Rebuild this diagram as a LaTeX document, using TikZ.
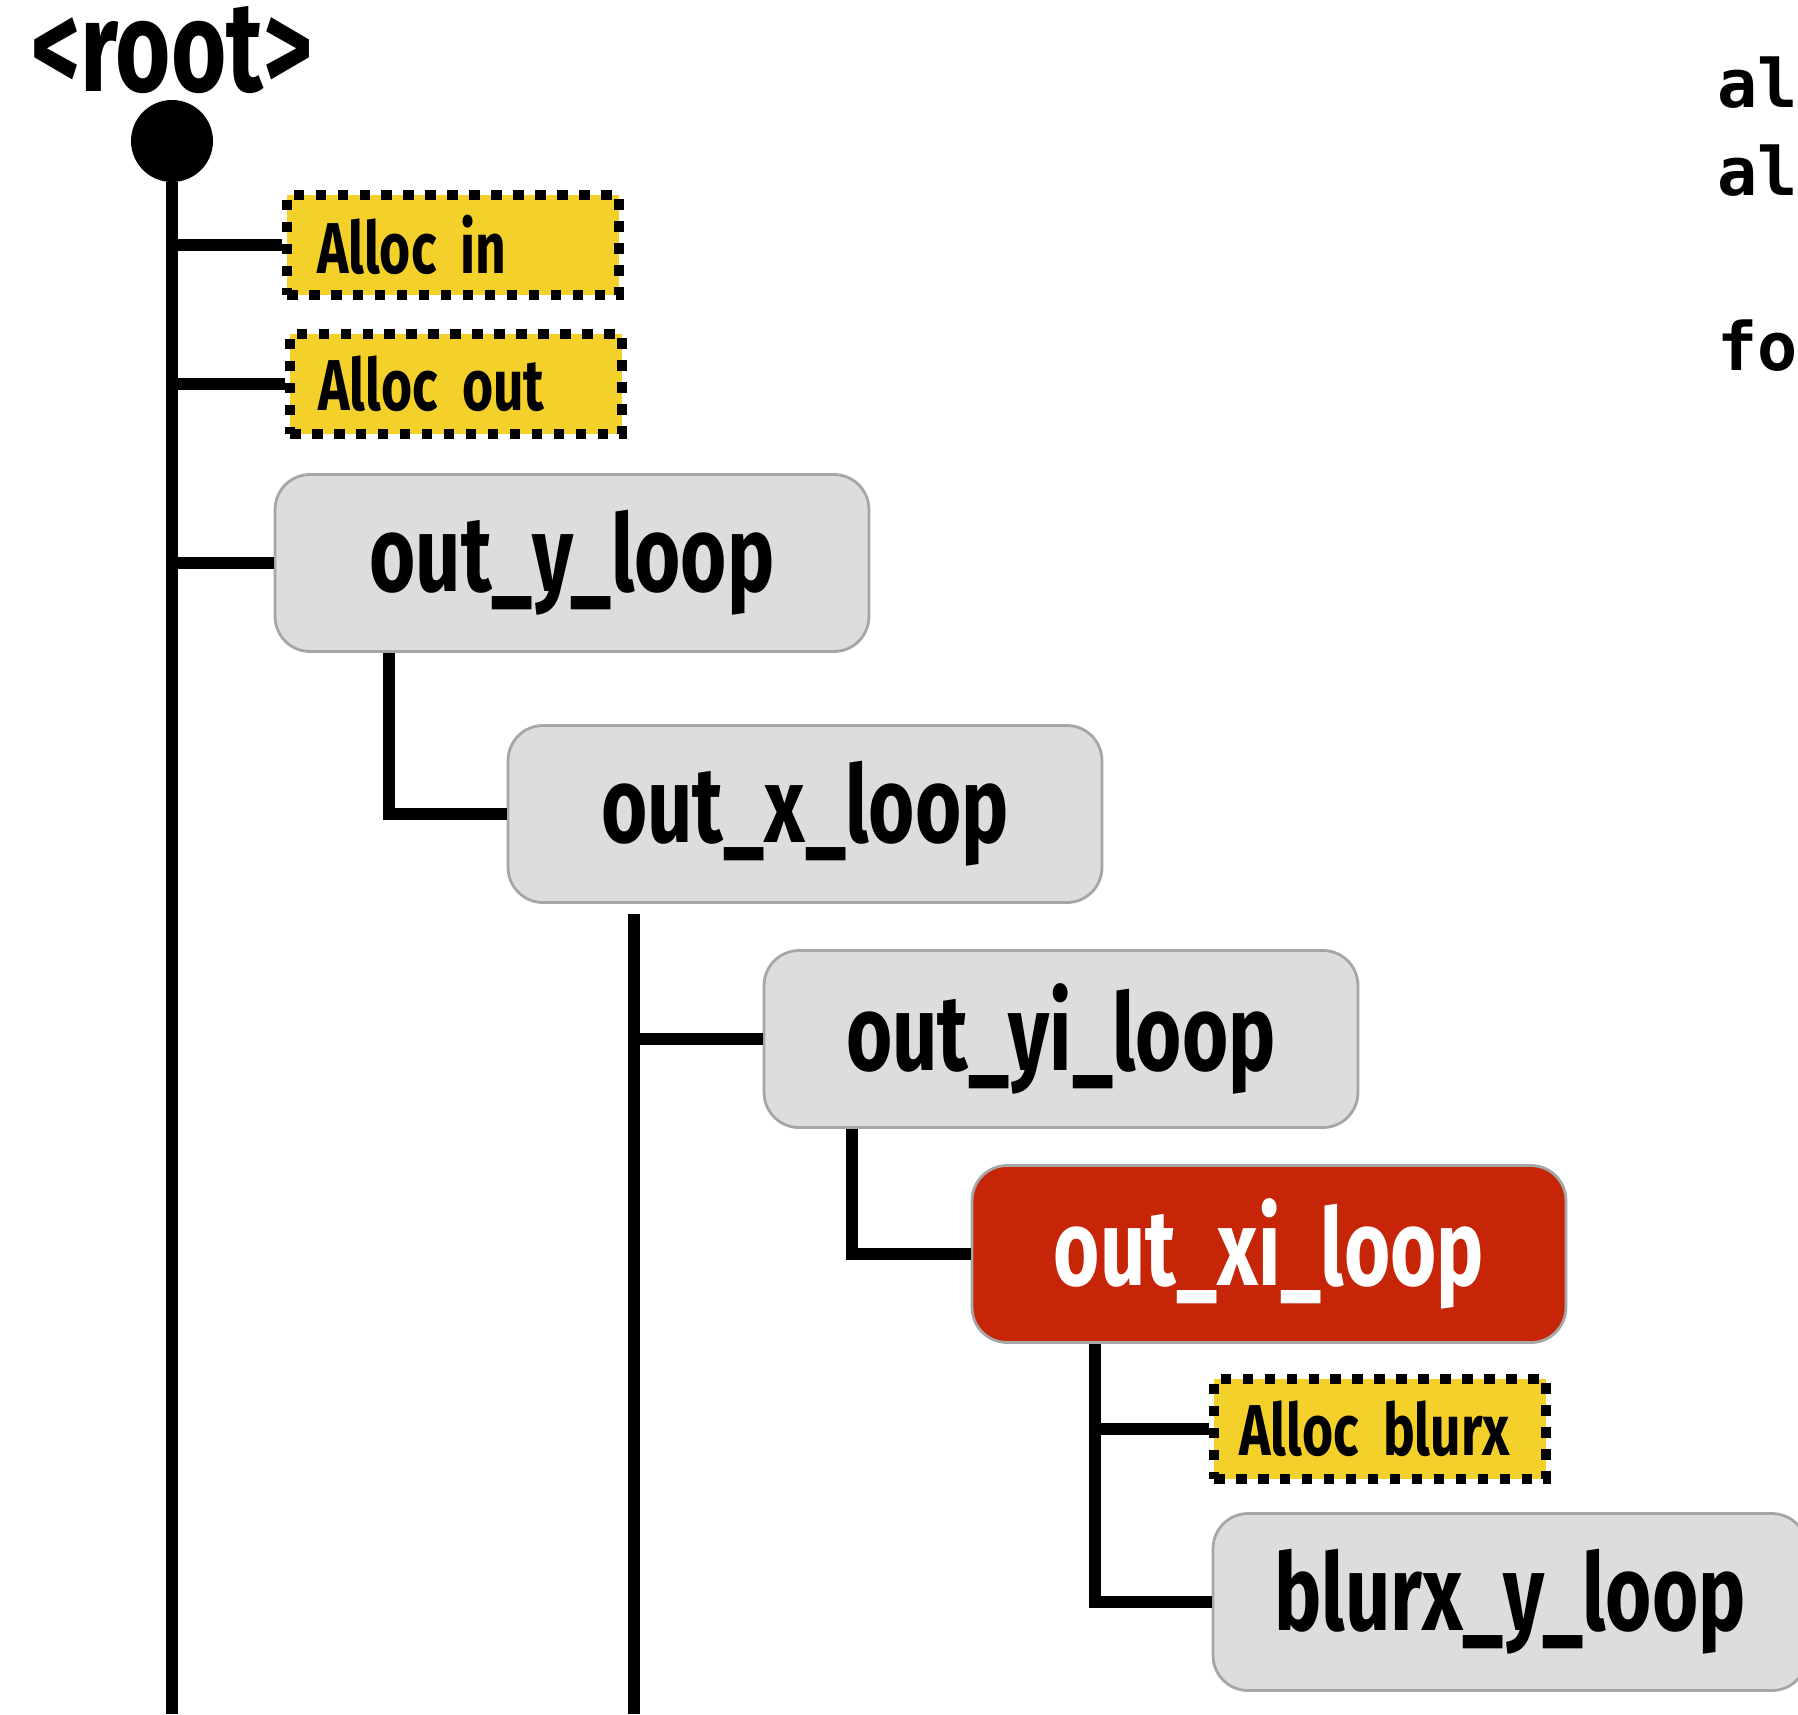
\documentclass[tikz,border=0pt]{standalone}
\usepackage{fontspec}
\usepackage{tikz}
\setmainfont{Fira Sans}[FakeStretch=0.74]
\newfontfamily\codefont{DejaVu Sans Mono}

\definecolor{allocyellow}{HTML}{F4D12A}
\definecolor{loopgray}{HTML}{DCDDDF}
\definecolor{loopedge}{HTML}{A5A6A6}
\definecolor{looped}{HTML}{C62508}

\tikzset{
  tree/.style={black, line width=0.24cm, line join=miter},
  loopbox/.style={draw=loopedge, line width=1.6pt, fill=loopgray, rounded corners=0.7cm,
    minimum width=11.88cm, minimum height=3.54cm, inner sep=0pt,
    font=\fontsize{61}{61}\selectfont\bfseries},
  hotloop/.style={loopbox, fill=looped, text=white},
  allocbox/.style={draw=black, fill=allocyellow, line width=5.5pt, dash pattern=on 6pt off 6.5pt,
    minimum height=2cm, text width=5.74cm, inner xsep=0.45cm, inner ysep=0pt, align=left,
    font=\fontsize{41}{41}\selectfont\bfseries},
  codeline/.style={anchor=base west, inner sep=0pt, font=\codefont\fontsize{38}{38}\selectfont\bfseries}
}

\begin{document}
\begin{tikzpicture}[x=0.02cm, y=-0.02cm]
\useasboundingbox (0,0) rectangle (1798,1714);

\node[font=\fontsize{73}{73}\selectfont\bfseries] (roottext) at (172,50) {<root>};
\node[circle, fill=black, minimum size=1.64cm, inner sep=0pt] (rootdot) at (172,141) {};

\node[allocbox] (allocin) at (453,245) {\hspace{0.15cm}Alloc in};
\node[allocbox] (allocout) at (456,384) {\hspace{0.12cm}Alloc out};
\node[loopbox] (outy) at (572,563) {out\_y\_loop};
\node[loopbox] (outx) at (805,814) {out\_x\_loop};
\node[loopbox] (outyi) at (1061,1039) {out\_yi\_loop};
\node[hotloop] (outxi) at (1269,1254) {out\_xi\_loop};
\node[allocbox] (allocblurx) at (1380,1429) {\hspace{0.06cm}Alloc blurx};
\node[loopbox] (blurxy) at (1510,1602) {blurx\_y\_loop};

\node[codeline] (code1) at (1717,107) {al};
\node[codeline] (code2) at (1717,195) {al};
\node[codeline] (code3) at (1717,370) {fo};

\coordinate (trunkend) at (172,1714);
\coordinate (xloopend) at (634,1714);
\coordinate (yibranch) at ([xshift=1.78cm]outyi.south west);
\coordinate (xibranch) at ([xshift=2.48cm]outxi.south west);

\draw[tree] (rootdot) -- (trunkend);
\draw[tree] (rootdot |- allocin.west) -- (allocin.west);
\draw[tree] (rootdot |- allocout.west) -- (allocout.west);
\draw[tree] (rootdot |- outy.west) -- (outy.west);

\draw[tree] ([xshift=2.3cm]outy.south west) |- (outx.west);
\draw[tree] ([yshift=-0.2cm]outx.south -| xloopend) -- (xloopend);
\draw[tree] (xloopend |- outyi.west) -- (outyi.west);
\draw[tree] (yibranch) |- (outxi.west);
\draw[tree] (xibranch) |- (blurxy.west);
\draw[tree] (xibranch |- allocblurx.west) -- (allocblurx.west);
\end{tikzpicture}
\end{document}
